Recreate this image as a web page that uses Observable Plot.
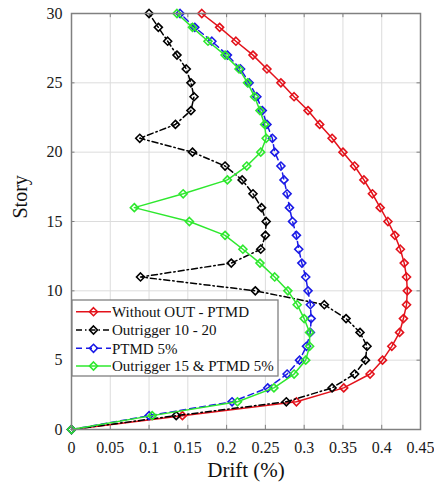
<!DOCTYPE html>
<html>
<head>
<meta charset="utf-8">
<script src="https://cdn.jsdelivr.net/npm/d3@7"></script>
<script src="https://cdn.jsdelivr.net/npm/@observablehq/plot@0.6"></script>
<style>
  html, body { margin: 0; padding: 0; background: #fff; }
  #chart { position: relative; width: 434px; height: 489px; }
  #chart svg text { font-family: 'Liberation Serif', 'Times New Roman', serif; }
</style>
</head>
<body>
<div id="chart"></div>
<script>
const stories = d3.range(0, 31);

const withoutOutPtmd = [0, 0.143, 0.290, 0.351, 0.385, 0.401, 0.413, 0.423, 0.428, 0.432, 0.433,
  0.432, 0.429, 0.424, 0.417, 0.408, 0.398, 0.388, 0.377, 0.365, 0.350,
  0.336, 0.320, 0.305, 0.287, 0.270, 0.252, 0.234, 0.212, 0.191, 0.168];

const outrigger1020 = [0, 0.135, 0.277, 0.336, 0.365, 0.379, 0.381, 0.372, 0.354, 0.326, 0.237,
  0.089, 0.206, 0.244, 0.250, 0.251, 0.245, 0.234, 0.220, 0.198, 0.156,
  0.088, 0.134, 0.154, 0.158, 0.154, 0.148, 0.136, 0.124, 0.112, 0.100];

const ptmd5 = [0, 0.100, 0.207, 0.253, 0.278, 0.294, 0.303, 0.308, 0.309, 0.308, 0.305,
  0.302, 0.297, 0.293, 0.290, 0.285, 0.281, 0.278, 0.274, 0.270, 0.262,
  0.259, 0.252, 0.246, 0.239, 0.229, 0.218, 0.201, 0.181, 0.159, 0.140];

const outrigger15Ptmd5 = [0, 0.104, 0.214, 0.261, 0.287, 0.302, 0.307, 0.307, 0.300, 0.291, 0.279,
  0.262, 0.243, 0.221, 0.198, 0.152, 0.081, 0.144, 0.201, 0.226, 0.244,
  0.251, 0.249, 0.243, 0.236, 0.227, 0.216, 0.198, 0.176, 0.156, 0.136];

const seriesNames = ["Without OUT - PTMD", "Outrigger 10 - 20", "PTMD 5%", "Outrigger 15 & PTMD 5%"];
const seriesValues = [withoutOutPtmd, outrigger1020, ptmd5, outrigger15Ptmd5];
const seriesColors = ["#e3121b", "#000000", "#1a1ae6", "#2ee82e"];
const seriesDash = [null, "6,3,1.5,3", "6,4", null];

const xTicks = [0, 0.05, 0.1, 0.15, 0.2, 0.25, 0.3, 0.35, 0.4, 0.45];
const yTicks = [0, 5, 10, 15, 20, 25, 30];

const font = "'Liberation Serif', 'Times New Roman', serif";

const rows = seriesNames.map((name, i) => stories.map((s, j) => ({series: name, story: s, drift: seriesValues[i][j]})));

const marks = [
  Plot.gridX(xTicks, {stroke: "#dcdcdc", strokeOpacity: 1, strokeWidth: 1}),
  Plot.gridY(yTicks, {stroke: "#dcdcdc", strokeOpacity: 1, strokeWidth: 1}),
  Plot.ruleX(xTicks, {x: d => d, y1: 0, y2: 0.3, stroke: "#808080"}),
  Plot.ruleX(xTicks, {x: d => d, y1: 30, y2: 29.7, stroke: "#808080"}),
  Plot.ruleY(yTicks, {y: d => d, x1: 0, x2: 0.0045, stroke: "#808080"}),
  Plot.ruleY(yTicks, {y: d => d, x1: 0.45, x2: 0.4455, stroke: "#808080"}),
  Plot.axisX(xTicks, {tickSize: 0, tickPadding: 12, fontSize: 16, label: null, fontFamily: font,
    tickFormat: d => String(+d.toFixed(2)), fill: "#1a1a1a"}),
  Plot.axisY(yTicks, {tickSize: 0, tickPadding: 9, fontSize: 16, label: null, fontFamily: font,
    tickFormat: d => String(d), fill: "#1a1a1a"}),
  Plot.text(["Drift (%)"], {frameAnchor: "bottom", dy: 47, fontSize: 21, fill: "#111", fontFamily: font}),
  Plot.text(["Story"], {frameAnchor: "left", dx: -51, dy: -3, rotate: -90, fontSize: 20, fill: "#111", fontFamily: font})
];

rows.forEach((data, i) => {
  marks.push(Plot.line(data, {x: "drift", y: "story", stroke: seriesColors[i], strokeWidth: 1.5,
    strokeDasharray: seriesDash[i] || undefined}));
  marks.push(Plot.dot(data, {x: "drift", y: "story", symbol: "diamond2", r: 3.6, stroke: seriesColors[i],
    strokeWidth: 1.6, fill: "none"}));
});

marks.push(Plot.frame({stroke: "#808080", strokeWidth: 1.5}));

const chart = Plot.plot({
  width: 434,
  height: 489,
  marginLeft: 71,
  marginRight: 14,
  marginTop: 13,
  marginBottom: 60,
  style: {fontFamily: font, background: "#fff"},
  x: {domain: [0, 0.45]},
  y: {domain: [0, 30]},
  marks
});

document.getElementById("chart").appendChild(chart);

// Legend inside the plot (MATLAB-style box)
const svg = d3.select(chart);
const lg = svg.append("g").attr("class", "legend").attr("text-anchor", "start");
const lx = 72, ly = 300, lw = 206, lh = 76;
lg.append("rect").attr("x", lx).attr("y", ly).attr("width", lw).attr("height", lh)
  .attr("fill", "#fff").attr("stroke", "#808080").attr("stroke-width", 1.3);
const rowY = [311.7, 330, 348.3, 366];
const diamond = d3.symbol(d3.symbolDiamond2, Math.pow(3.6, 2) * Math.PI);
seriesNames.forEach((name, i) => {
  const y = rowY[i];
  lg.append("line").attr("x1", 76).attr("x2", 111).attr("y1", y).attr("y2", y)
    .attr("stroke", seriesColors[i]).attr("stroke-width", 1.5)
    .attr("stroke-dasharray", seriesDash[i]);
  lg.append("path").attr("d", diamond()).attr("transform", `translate(93.5,${y})`)
    .attr("fill", "none").attr("stroke", seriesColors[i]).attr("stroke-width", 1.6);
  lg.append("text").attr("x", 112).attr("y", y).attr("dy", "0.35em").attr("text-anchor", "start")
    .attr("font-family", font).attr("font-size", 15).attr("fill", "#111").text(name);
});
</script>
</body>
</html>
